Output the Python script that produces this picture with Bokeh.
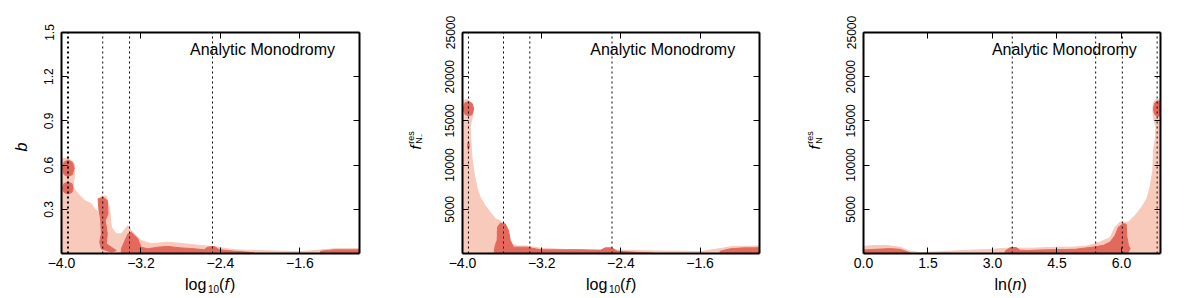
import math
from bokeh.plotting import figure
from bokeh.layouts import row, column
from bokeh.models import Range1d, FixedTicker, LinearAxis, Label
from bokeh.core.properties import value
from bokeh.embed import file_html
from bokeh.resources import INLINE

FONT = "Liberation Sans"
LIGHT = "#f8cabb"
DARK = "#e4695d"

# ---------------- ticks ----------------
x_ticks_f = [-4.0, -3.2, -2.4, -1.6]
x_labels_f = ["\u22124.0", "\u22123.2", "\u22122.4", "\u22121.6"]
x_ticks_n = [0.0, 1.5, 3.0, 4.5, 6.0]
x_labels_n = ["0.0", "1.5", "3.0", "4.5", "6.0"]
y_ticks_b = [0.3, 0.6, 0.9, 1.2, 1.5]
y_labels_b = ["0.3", "0.6", "0.9", "1.2", "1.5"]
y_ticks_r = [5000, 10000, 15000, 20000, 25000]
y_labels_r = ["5000", "10000", "15000", "20000", "25000"]

# ---------------- dotted vertical lines ----------------
vlines_1 = [-3.935, -3.585, -3.315, -2.48]
vwidth_1 = [2, 1, 1, 1]
vlines_2 = [-3.94, -3.586, -3.32, -2.49]
vlines_3 = [3.46, 5.40, 6.02, 6.83]

# ---------------- panel 1: b vs log10(f) ----------------
p1_light_x = [[-4.0, -4.0, -3.93, -3.87, -3.87, -3.883, -3.833, -3.766, -3.699, -3.666, -3.632, -3.60,
               -3.55, -3.515, -3.498, -3.448, -3.398, -3.331, -3.298, -3.265, -3.198, -3.097, -2.930,
               -2.763, -2.596, -2.428, -2.262, -1.927, -1.593, -1.259, -1.0, -1.0]]
p1_light_y = [[0, 0.645, 0.645, 0.61, 0.53, 0.45, 0.405, 0.36, 0.337, 0.303, 0.28, 0.39,
               0.39, 0.30, 0.179, 0.134, 0.134, 0.190, 0.156, 0.134, 0.088, 0.066, 0.077,
               0.066, 0.054, 0.043, 0.025, 0.018, 0.012, 0.032, 0.034, 0]]
p1_dark_x = [
    [-3.99, -3.975, -3.933, -3.89, -3.873, -3.89, -3.933, -3.975],
    [-3.99, -3.975, -3.935, -3.895, -3.883, -3.895, -3.935, -3.975],
    [-3.632, -3.582, -3.539, -3.532, -3.559, -3.539, -3.549, -3.498, -3.448, -3.498, -3.599,
     -3.615, -3.599, -3.605, -3.625],
    [-3.398, -3.398, -3.331, -3.298, -3.231, -3.198, -3.131, -3.030, -2.930, -2.796, -2.663,
     -2.563, -2.529, -2.462, -2.412, -2.262, -2.061, -2.061],
    [-1.392, -1.392, -1.259, -1.0, -1.0],
]
p1_dark_y = [
    [0.578, 0.62, 0.634, 0.62, 0.578, 0.536, 0.522, 0.536],
    [0.445, 0.475, 0.484, 0.475, 0.445, 0.415, 0.405, 0.415],
    [0.371, 0.382, 0.36, 0.269, 0.224, 0.134, 0.066, 0.043, 0.02, 0.009, 0.032,
     0.077, 0.134, 0.224, 0.314],
    [0, 0.032, 0.134, 0.145, 0.100, 0.043, 0.032, 0.043, 0.048, 0.038, 0.032,
     0.025, 0.043, 0.048, 0.025, 0.016, 0.005, 0],
    [0, 0.016, 0.025, 0.025, 0],
]

# ---------------- panel 2: f_res(N-) vs log10(f) ----------------
p2_light_x = [[-4.0, -4.0, -3.956, -3.915, -3.895, -3.905, -3.922, -3.915, -3.905, -3.882, -3.855,
               -3.821, -3.771, -3.720, -3.670, -3.619, -3.569, -3.535, -3.501, -3.451, -3.350,
               -3.215, -2.946, -2.609, -2.273, -1.935, -1.767, -1.599, -1.431, -1.262, -1.0, -1.0]]
p2_light_y = [[0, 17304, 17417, 17115, 16360, 15231, 14288, 12780, 10894, 9009, 7501,
               6370, 5429, 4675, 3921, 3700, 3100, 2224, 1093, 850, 850,
               600, 450, 450, 339, 264, 264, 200, 500, 800, 850, 0]]
p2_dark_x = [
    [-3.995, -3.975, -3.936, -3.90, -3.888, -3.90, -3.936, -3.975],
    [-3.95, -3.94, -3.93, -3.94],
    [-3.680, -3.670, -3.650, -3.646, -3.619, -3.569, -3.535, -3.518, -3.485, -3.350, -3.215,
     -3.013, -2.811, -2.609, -2.559, -2.491, -2.440, -2.273, -2.071, -2.071],
    [-1.397, -1.397, -1.296, -1.161, -1.0, -1.0],
]
p2_dark_y = [
    [16360, 17050, 17200, 16950, 16360, 15750, 15550, 15750],
    [12215, 12700, 12215, 11700],
    [0, 900, 1500, 2979, 3431, 3355, 2601, 1470, 716, 716, 415,
     415, 415, 339, 641, 641, 264, 151, 38, 0],
    [0, 264, 528, 641, 641, 0],
]

# ---------------- panel 3: f_res(N) vs ln(n) ----------------
p3_light_x = [[0, 0, 0.226, 0.551, 0.853, 1.086, 1.319, 1.784, 2.412, 2.877, 3.342, 3.644, 3.947,
               4.412, 4.877, 5.202, 5.505, 5.737, 5.853, 5.970, 6.109, 6.163, 6.319, 6.474, 6.591,
               6.667, 6.730, 6.744, 6.784, 6.807, 6.744, 6.730, 6.744, 6.807, 6.908, 6.908]]
p3_light_y = [[0, 800, 900, 900, 700, 250, 100, 200, 362, 441, 600, 600, 600,
               700, 720, 850, 1301, 1798, 2997, 3563, 3529, 3563, 4320, 5259, 6209,
               7521, 9410, 11672, 12803, 14307, 15257, 16195, 17135, 17406, 17406, 0]]
p3_dark_x = [
    [0, 0, 0.272, 0.621, 0.853, 0.970, 1.086, 1.086],
    [3.295, 3.295, 3.412, 3.551, 3.644, 3.807, 4.109, 4.574, 4.923, 5.156, 5.349, 5.581,
     5.737, 5.853, 5.930, 6.047, 6.109, 6.126, 6.163, 6.202, 6.163, 6.133],
    [6.744, 6.77, 6.83, 6.908, 6.908, 6.83, 6.77],
]
p3_dark_y = [
    [0, 396, 475, 554, 475, 283, 57, 0],
    [0, 283, 667, 667, 362, 328, 396, 441, 475, 622, 735, 927,
     1301, 2058, 2997, 3382, 3303, 1866, 927, 554, 170, 0],
    [16388, 17000, 17250, 17200, 15600, 15500, 15750],
]

TITLE = "Analytic Monodromy"

PANEL_H = 274
XLAB_H = 22


def make_panel(width, bl, br, xr, yr, xt, xlbl, yt, ylbl):
    p = figure(width=width, height=PANEL_H, x_range=Range1d(*xr), y_range=Range1d(*yr),
               output_backend="svg", toolbar_location=None,
               min_border_left=bl, min_border_right=br, min_border_top=32,
               min_border_bottom=21)
    p.grid.visible = False
    p.outline_line_color = None
    top = LinearAxis()
    right = LinearAxis()
    p.add_layout(top, "above")
    p.add_layout(right, "right")
    bottom = p.below[0]
    left = p.left[0]
    for ax, ticks in ((bottom, xt), (top, xt), (left, yt), (right, yt)):
        ax.ticker = FixedTicker(ticks=ticks, minor_ticks=[])
        ax.axis_line_width = 2
        ax.axis_line_color = "black"
        ax.major_tick_in = 6
        ax.major_tick_out = 0
        ax.minor_tick_in = 0
        ax.minor_tick_out = 0
        ax.major_tick_line_color = "black"
        ax.major_tick_line_width = 1
        ax.major_label_text_font = FONT
        ax.major_label_text_color = "black"
    for ax in (top, right):
        ax.major_label_text_alpha = 0
        ax.major_label_standoff = 0
    bottom.major_label_overrides = dict(zip(xt, xlbl))
    bottom.major_label_text_font_size = "14px"
    bottom.major_label_standoff = 4
    left.major_label_overrides = dict(zip(yt, ylbl))
    left.major_label_text_font_size = "12px"
    left.major_label_orientation = "vertical"
    left.major_label_standoff = 8
    return p


def label_fig(w, h):
    p = figure(width=w, height=h, x_range=Range1d(0, w), y_range=Range1d(0, h),
               output_backend="svg", toolbar_location=None,
               x_axis_type=None, y_axis_type=None, min_border=0)
    p.outline_line_color = None
    p.grid.visible = False
    return p


def txt(p, x, y, s, size="16px", style="normal", angle=0.0, align="left", baseline="alphabetic"):
    p.text(x=[x], y=[y], text=[s], angle=angle, text_font=value(FONT),
           text_font_size=value(size), text_font_style=style, text_color="black",
           text_align=align, text_baseline=baseline)


def fill(p, lx, ly, dx, dy):
    p.patches(xs=lx, ys=ly, fill_color=LIGHT, line_color=LIGHT, line_width=1)
    p.patches(xs=dx, ys=dy, fill_color=DARK, line_color=DARK, line_width=1)


def vlines(p, xs, y1, widths=None):
    widths = widths or [1] * len(xs)
    p.segment(x0=xs, y0=[0] * len(xs), x1=xs, y1=[y1] * len(xs),
              line_color="black", line_dash="2 3", line_width=widths)


def title(p, x, y):
    p.add_layout(Label(x=x, y=y, text=TITLE, text_font=FONT, text_font_size="16px",
                       text_color="black", text_align="left", text_baseline="middle"))


def xlab_log(p, fl):
    base = 296 - 283.5
    txt(p, fl + 123.5, base, "log")
    txt(p, fl + 146.5, base - 5, "10", size="10px")
    txt(p, fl + 157.5, base, "(")
    txt(p, fl + 163, base, "f", style="italic")
    txt(p, fl + 168.5, base, ")")


def ylab_f(p, cx, sub):
    half = math.pi / 2
    txt(p, cx, 129, "f", size="15px", style="italic", angle=half, baseline="middle")
    txt(p, cx - 4.5, 136, "res", size="9px", angle=half, baseline="middle")
    txt(p, cx + 4, 136, sub, size="9px", angle=half, baseline="middle")


# ----- panel 1 -----
p1 = make_panel(374, 31, 45, (-4.0, -1.0), (0, 1.5), x_ticks_f, x_labels_f, y_ticks_b, y_labels_b)
fill(p1, p1_light_x, p1_light_y, p1_dark_x, p1_dark_y)
vlines(p1, vlines_1, 1.5, vwidth_1)
title(p1, -2.706, 1.385)
yl1 = label_fig(30, PANEL_H)
txt(yl1, 21, 132, "b", style="italic", angle=math.pi / 2, align="center", baseline="middle")
xl1 = label_fig(404, XLAB_H)
xlab_log(xl1, 61)

# ----- panel 2 -----
p2 = make_panel(372, 30, 45, (-4.0, -1.0), (0, 25000), x_ticks_f, x_labels_f, y_ticks_r, y_labels_r)
fill(p2, p2_light_x, p2_light_y, p2_dark_x, p2_dark_y)
vlines(p2, vlines_2, 25000)
title(p2, -2.71, 23080)
yl2 = label_fig(28, PANEL_H)
ylab_f(yl2, 10.5, "N\u208b")
xl2 = label_fig(400, XLAB_H)
xlab_log(xl2, 58)

# ----- panel 3 -----
p3 = make_panel(360, 31, 32, (0.0, 6.908), (0, 25000), x_ticks_n, x_labels_n, y_ticks_r, y_labels_r)
fill(p3, p3_light_x, p3_light_y, p3_dark_x, p3_dark_y)
vlines(p3, vlines_3, 25000)
title(p3, 2.986, 23080)
yl3 = label_fig(28, PANEL_H)
ylab_f(yl3, 10, "N")
xl3 = label_fig(388, XLAB_H)
base3 = 296 - 283.5
txt(xl3, 59 + 131, base3, "ln(")
txt(xl3, 59 + 149, base3, "n", style="italic")
txt(xl3, 59 + 158, base3, ")")

layout = row(
    column(row(yl1, p1), xl1),
    column(row(yl2, p2), xl2),
    column(row(yl3, p3), xl3),
)
open("out.html", "w").write(file_html(layout, INLINE))
